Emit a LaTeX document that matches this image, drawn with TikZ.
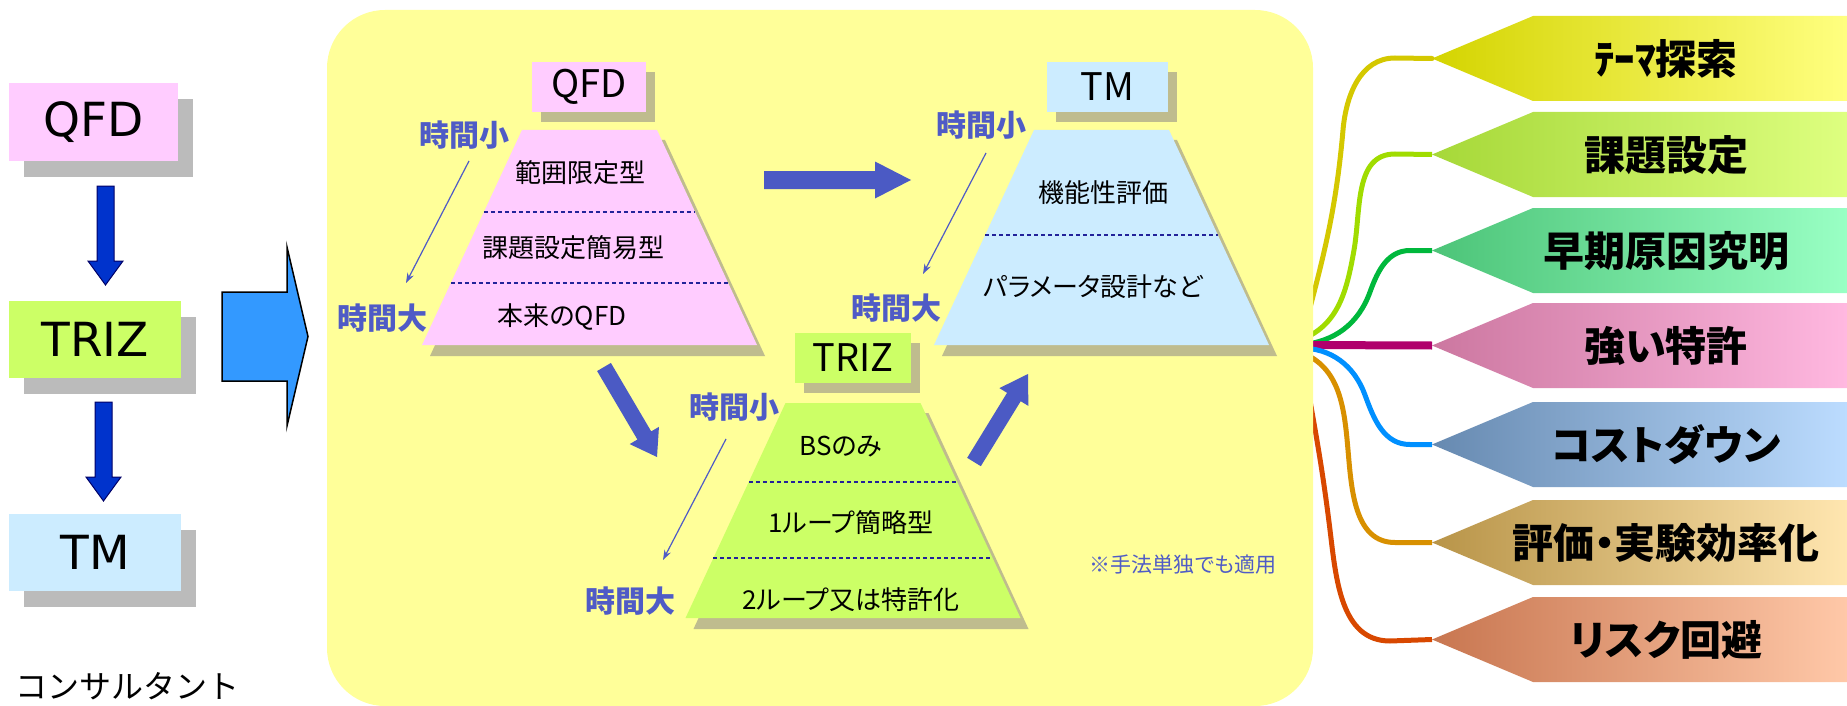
\documentclass[tikz,border=0pt]{standalone}
\usepackage{fontspec}
\usetikzlibrary{calc,shadows,arrows.meta}
\newfontfamily\jp[RawFeature=+palt]{Noto Sans CJK JP}
\newfontfamily\jpm{Noto Sans CJK JP}
\newfontfamily\verd{DejaVu Sans}
\definecolor{bgY}{HTML}{FFFF99}
\definecolor{pinkQ}{HTML}{FFCCFF}
\definecolor{limeT}{HTML}{CCFF66}
\definecolor{blueM}{HTML}{CCECFF}
\definecolor{shG}{HTML}{BBBBBB}
\definecolor{shK}{HTML}{BFBC8E}
\definecolor{tcol}{HTML}{4F5BC6}
\definecolor{fatB}{HTML}{4B5AC4}
\definecolor{dashB}{HTML}{22229A}
\definecolor{downB}{HTML}{0033CC}
\definecolor{bigB}{HTML}{3399FF}
\definecolor{bl1}{HTML}{D4D400}\definecolor{br1}{HTML}{FFFF80}
\definecolor{bl2}{HTML}{A6D838}\definecolor{br2}{HTML}{DEFF80}
\definecolor{bl3}{HTML}{4CC478}\definecolor{br3}{HTML}{99FFC4}
\definecolor{bl4}{HTML}{CC77A0}\definecolor{br4}{HTML}{FFB8E0}
\definecolor{bl5}{HTML}{6689B0}\definecolor{br5}{HTML}{BCDCFF}
\definecolor{bl6}{HTML}{B89448}\definecolor{br6}{HTML}{FFE6B0}
\definecolor{bl7}{HTML}{C87650}\definecolor{br7}{HTML}{FFC8A8}
\definecolor{cv1}{HTML}{D4C800}
\definecolor{cv2}{HTML}{A0DC00}
\definecolor{cv3}{HTML}{00B83C}
\definecolor{cv4}{HTML}{B0006C}
\definecolor{cv5}{HTML}{0090FF}
\definecolor{cv6}{HTML}{D89000}
\definecolor{cv7}{HTML}{D84800}

% tail, tip, half shaft, half head, head length, path options
\newcommand\fatarrow[6]{%
  \coordinate (fah) at ($(#2)!#5!(#1)$);
  \path[#6] ($(#1)!#3!90:(#2)$) -- ($(fah)!#3!90:(#2)$) -- ($(fah)!#4!90:(#2)$) -- (#2)
    -- ($(fah)!#4!-90:(#2)$) -- ($(fah)!#3!-90:(#2)$) -- ($(#1)!#3!-90:(#2)$) -- cycle;}
% centre x, top y, fill
\newcommand\trapz[3]{%
  \fill[shK] (#1-59.5,#2+10) -- (#1+75.5,#2+10) -- (#1+175.5,#2+226) -- (#1-159.5,#2+226) -- cycle;
  \fill[#3] (#1-67.5,#2) -- (#1+67.5,#2) -- (#1+167.5,#2+215) -- (#1-167.5,#2+215) -- cycle;}
% centre x, top y, dy
\newcommand\dsep[3]{%
  \draw[dashsep] (#1-67.5-#3*100/215,#2+#3) -- (#1+67.5+#3*100/215,#2+#3);}

\begin{document}
\begin{tikzpicture}[x=1pt,y=-1pt,
  curveline/.style={line width=5pt},
  dashsep/.style={draw=dashB,line width=1.2pt,dash pattern=on 4pt off 3pt},
  lbox/.style={minimum width=#1,minimum height=50pt,inner sep=0pt,
    font=\jp\fontsize{38}{44}\selectfont,
    drop shadow={shadow xshift=9pt,shadow yshift=-10pt,fill=shK,opacity=1}},
  bbox/.style={minimum width=#1,minimum height=77pt,inner sep=0pt,
    font=\verd\fontsize{47}{54}\selectfont,
    drop shadow={shadow xshift=15pt,shadow yshift=-16pt,fill=shG,opacity=1}},
  jtxt/.style={inner sep=0pt,font=\jp\fontsize{26}{30}\selectfont},
  tlab/.style={inner sep=0pt,text=tcol,font=\jp\bfseries\fontsize{30}{34}\selectfont},
  thin/.style={draw=tcol,line width=1.2pt,-{Stealth[length=10pt,width=7pt]}},
  bantxt/.style={inner sep=0pt,font=\jp\bfseries\fontsize{41}{48}\selectfont}]
\useasboundingbox (0,0) rectangle (1847,706);

% ---------- banners on the right ----------
\foreach \i/\T/\txt in {1/16/ﾃｰﾏ探索,2/112/課題設定,3/208/早期原因究明,4/303/強い特許,5/402/コストダウン,6/500/評価・実験効率化,7/597/リスク回避}{
  \shade[left color=bl\i,right color=br\i] (1432,\T+42.5) -- (1533,\T) -- (1847,\T) -- (1847,\T+85) -- (1533,\T+85) -- cycle;
  \coordinate (t\i) at (1432,\T+42.5);
  \node[bantxt] (b\i) at (1666,\T+43) {\txt};
}

% ---------- curves ----------
\coordinate (hub) at (1300,345);
\draw[curveline,cv1,line cap=round] (hub) to[out=75,in=-95] (1343,130) to[out=85,in=180] (1395,58) -- (t1);
\draw[curveline,cv2] ($(hub)+(0,-5)$) to[out=20,in=-100] (1354,250) to[out=80,in=180] (1395,154) -- (t2);
\draw[curveline,cv3] (hub) to[out=5,in=-110] (1370,292) to[out=70,in=180] (1410,250.5) -- (t3);
\draw[line width=8pt,cv4] (hub) -- (t4);
\draw[curveline,cv5] ($(hub)+(0,3)$) to[out=0,in=110] (1365,395) to[out=-70,in=180] (1410,444.5) -- (t5);
\draw[curveline,cv6] ($(hub)+(0,7)$) to[out=-20,in=95] (1348,450) to[out=-85,in=180] (1395,542.5) -- (t6);
\draw[curveline,cv7] (hub) to[out=-80,in=97] (1330,530) to[out=-83,in=180] (1390,641) -- (t7);

% ---------- yellow panel ----------
\fill[bgY,rounded corners=58pt] (327,10) rectangle (1313,706);

% ---------- left column ----------
\node[bbox=169pt,fill=pinkQ] (lq) at (93.5,122) {QFD};
\node[bbox=172pt,fill=limeT] (lt) at (95,339.5) {TRIZ};
\node[bbox=172pt,fill=blueM] (lm) at (95,552.5) {TM};
\coordinate (a1s) at (105.5,186); \coordinate (a1e) at (105.5,285);
\coordinate (a2s) at (103.5,402); \coordinate (a2e) at (103.5,501);
\fatarrow{a1s}{a1e}{8.5pt}{17.5pt}{24pt}{fill=downB,draw=black!60!blue,line width=1pt}
\fatarrow{a2s}{a2e}{8.5pt}{17.5pt}{24pt}{fill=downB,draw=black!60!blue,line width=1pt}
\node[inner sep=0pt,font=\jpm\fontsize{32}{36}\selectfont] (cons) at (128,686) {コンサルタント};
\coordinate (bgs) at (222,336.5); \coordinate (bge) at (308,336.5);
\fatarrow{bgs}{bge}{44.5pt}{89.5pt}{21pt}{fill=bigB,draw=black,line width=1.5pt}

% ---------- trapezoids ----------
\trapz{589.5}{130}{pinkQ}
\trapz{1101.5}{130}{blueM}
\trapz{853}{403}{limeT}
\dsep{589.5}{130}{82}
\dsep{589.5}{130}{153}
\dsep{1101.5}{130}{105}
\dsep{853}{403}{79}
\dsep{853}{403}{155}

\node[lbox=114pt,fill=pinkQ] (q) at (589,87) {QFD};
\node[lbox=121pt,fill=blueM] (m) at (1107.5,87) {TM};
\node[lbox=116pt,fill=limeT] (t) at (853,358) {TRIZ};

\node[jtxt] (q1) at (580,173) {範囲限定型};
\node[jtxt] (q2) at (573,248) {課題設定簡易型};
\node[jtxt] (q3) at (562,317) {本来のQFD};
\node[jtxt] (m1) at (1103,193) {機能性評価};
\node[jtxt] (m2) at (1093,287) {パラメータ設計など};
\node[jtxt] (t1n) at (841,447) {BSのみ};
\node[jtxt] (t2n) at (851,523) {1ループ簡略型};
\node[jtxt] (t3n) at (851,600) {2ループ又は特許化};

% time labels
\node[tlab] (qs) at (464,135) {時間小};
\node[tlab] (ql) at (382,318) {時間大};
\node[tlab] (ms) at (981,125) {時間小};
\node[tlab] (ml) at (896,308) {時間大};
\node[tlab] (ts) at (734,407) {時間小};
\node[tlab] (tl) at (630,601) {時間大};
\coordinate (qa) at (469,161); \coordinate (qb) at (406,283);
\coordinate (ma) at (986,153); \coordinate (mb) at (923,274);
\coordinate (ta) at (726,439); \coordinate (tb) at (663,560);
\draw[thin] (qa) -- (qb);
\draw[thin] (ma) -- (mb);
\draw[thin] (ta) -- (tb);

% fat arrows between methods
\coordinate (h1) at (764,180); \coordinate (h2) at (911,180);
\coordinate (d1) at (604,367); \coordinate (d2) at (657,457);
\coordinate (u1) at (974,462); \coordinate (u2) at (1028,374);
\fatarrow{h1}{h2}{9pt}{18.5pt}{36pt}{fill=fatB}
\fatarrow{d1}{d2}{8pt}{17pt}{25pt}{fill=fatB}
\fatarrow{u1}{u2}{8pt}{17pt}{27pt}{fill=fatB}

\node[inner sep=0pt,text=tcol,font=\jp\fontsize{21}{25}\selectfont] (note) at (1183,565) {※手法単独でも適用};
\end{tikzpicture}
\end{document}
